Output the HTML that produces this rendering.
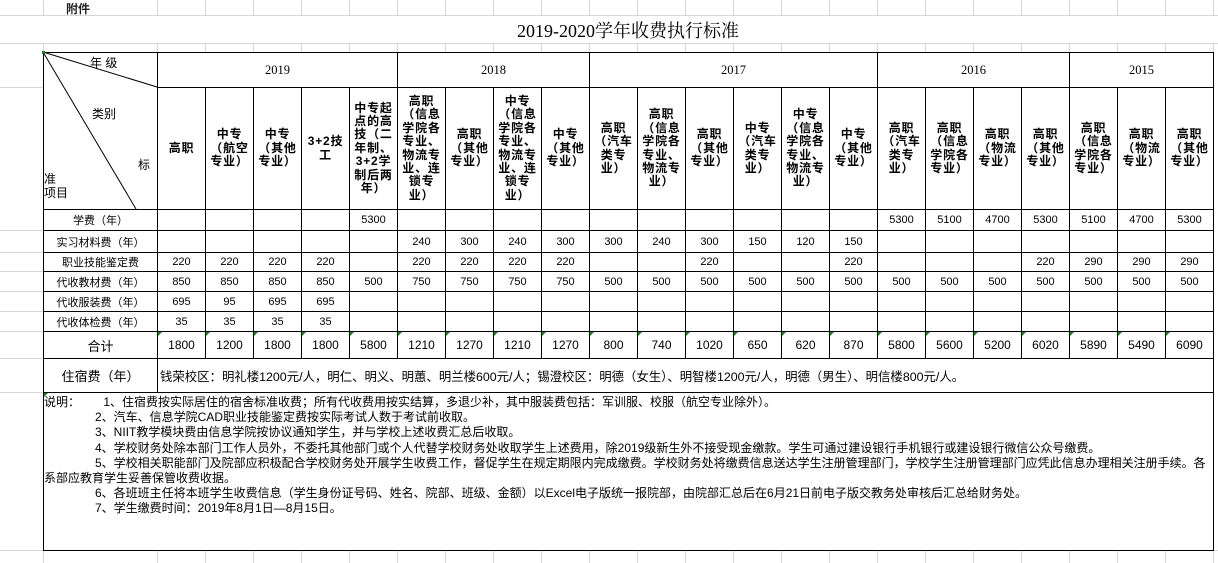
<!DOCTYPE html>
<html><head><meta charset="utf-8">
<style>
body{margin:0;width:1218px;height:563px;overflow:hidden;background:#fff;position:relative;font-family:"Liberation Sans","Noto Sans CJK SC",sans-serif;}
.g{position:absolute;background:#d6d6d6;}
table{position:absolute;left:43px;top:52px;border-collapse:collapse;table-layout:fixed;background:#fff;}
td{border:1px solid #000;padding:0;text-align:center;vertical-align:middle;font-size:11px;overflow:hidden;white-space:nowrap;}
.h td.c{font-weight:bold;font-size:12px;line-height:13.4px;letter-spacing:0.8px}
.yr{font-family:"Liberation Serif","Noto Serif CJK SC",serif;font-size:12.5px}
.lab{font-size:11px}
.n{font-size:11.5px}
.tot td{font-size:12px;position:relative}
.tri{position:absolute;left:0;top:0;width:0;height:0;border-top:4px solid #1a7f1a;border-right:4px solid transparent}
.notes{position:absolute;left:44px;top:395px;font-family:"Liberation Sans","Noto Sans CJK SC",sans-serif;font-size:12px;line-height:15.2px;color:#000;white-space:nowrap}
</style></head><body>
<div class="g" style="left:0;top:15px;width:1218px;height:1px"></div>
<div class="g" style="left:0;top:43px;width:1218px;height:1px"></div>
<div class="g" style="left:0;top:87px;width:43px;height:1px"></div>
<div class="g" style="left:0;top:230px;width:43px;height:1px"></div>
<div class="g" style="left:0;top:252px;width:43px;height:1px"></div>
<div class="g" style="left:0;top:271px;width:43px;height:1px"></div>
<div class="g" style="left:0;top:291px;width:43px;height:1px"></div>
<div class="g" style="left:0;top:311px;width:43px;height:1px"></div>
<div class="g" style="left:0;top:331px;width:43px;height:1px"></div>
<div class="g" style="left:0;top:358px;width:43px;height:1px"></div>
<div class="g" style="left:0;top:392px;width:43px;height:1px"></div>
<div class="g" style="left:0;top:550px;width:1218px;height:1px"></div>
<div id="vg"></div>
<div style="position:absolute;left:66px;top:0;font-size:12px;font-weight:bold;color:#222">附件</div>
<div style="position:absolute;left:43px;top:17px;width:1170px;text-align:center;font-size:18px;font-family:'Liberation Serif','Noto Serif CJK SC',serif">2019-2020学年收费执行标准</div>
<table>
<colgroup><col style="width:114px">
<col style="width:48px"><col style="width:48px"><col style="width:48px"><col style="width:48px"><col style="width:48px"><col style="width:48px"><col style="width:48px"><col style="width:48px"><col style="width:48px"><col style="width:48px"><col style="width:48px"><col style="width:48px"><col style="width:48px"><col style="width:48px"><col style="width:48px"><col style="width:48px"><col style="width:48px"><col style="width:48px"><col style="width:48px"><col style="width:48px"><col style="width:48px"><col style="width:48px">
</colgroup>
<tr style="height:35px"><td rowspan="2" style="position:relative;border-bottom:1px solid #000"></td><td colspan="5" class="yr">2019</td><td colspan="4" class="yr">2018</td><td colspan="6" class="yr">2017</td><td colspan="4" class="yr">2016</td><td colspan="3" class="yr">2015</td></tr>
<tr class="h" style="height:122px">
<td class="c">高职</td><td class="c">中专<br>（航空<br>专业）</td><td class="c">中专<br>（其他<br>专业）</td><td class="c">3+2技<br>工</td><td class="c">中专起<br>点的高<br>技（二<br>年制、<br>3+2学<br>制后两<br>年）</td>
<td class="c">高职<br>（信息<br>学院各<br>专业、<br>物流专<br>业、连<br>锁专<br>业）</td><td class="c">高职<br>（其他<br>专业）</td><td class="c">中专<br>（信息<br>学院各<br>专业、<br>物流专<br>业、连<br>锁专<br>业）</td><td class="c">中专<br>（其他<br>专业）</td>
<td class="c">高职<br>（汽车<br>类专<br>业）</td><td class="c">高职<br>（信息<br>学院各<br>专业、<br>物流专<br>业）</td><td class="c">高职<br>（其他<br>专业）</td><td class="c">中专<br>（汽车<br>类专<br>业）</td><td class="c">中专<br>（信息<br>学院各<br>专业、<br>物流专<br>业）</td><td class="c">中专<br>（其他<br>专业）</td>
<td class="c">高职<br>（汽车<br>类专<br>业）</td><td class="c">高职<br>（信息<br>学院各<br>专业）</td><td class="c">高职<br>（物流<br>专业）</td><td class="c">高职<br>（其他<br>专业）</td>
<td class="c">高职<br>（信息<br>学院各<br>专业）</td><td class="c">高职<br>（物流<br>专业）</td><td class="c">高职<br>（其他<br>专业）</td></tr>
<tr style="height:21px" class="n"><td class="lab">学费（年）</td><td></td><td></td><td></td><td></td><td>5300</td><td></td><td></td><td></td><td></td><td></td><td></td><td></td><td></td><td></td><td></td><td>5300</td><td>5100</td><td>4700</td><td>5300</td><td>5100</td><td>4700</td><td>5300</td></tr>
<tr style="height:22px" class="n"><td class="lab">实习材料费（年）</td><td></td><td></td><td></td><td></td><td></td><td>240</td><td>300</td><td>240</td><td>300</td><td>300</td><td>240</td><td>300</td><td>150</td><td>120</td><td>150</td><td></td><td></td><td></td><td></td><td></td><td></td><td></td></tr>
<tr style="height:19px" class="n"><td class="lab">职业技能鉴定费</td><td>220</td><td>220</td><td>220</td><td>220</td><td></td><td>220</td><td>220</td><td>220</td><td>220</td><td></td><td></td><td>220</td><td></td><td></td><td>220</td><td></td><td></td><td></td><td>220</td><td>290</td><td>290</td><td>290</td></tr>
<tr style="height:20px" class="n"><td class="lab">代收教材费（年）</td><td>850</td><td>850</td><td>850</td><td>850</td><td>500</td><td>750</td><td>750</td><td>750</td><td>750</td><td>500</td><td>500</td><td>500</td><td>500</td><td>500</td><td>500</td><td>500</td><td>500</td><td>500</td><td>500</td><td>500</td><td>500</td><td>500</td></tr>
<tr style="height:20px" class="n"><td class="lab">代收服装费（年）</td><td>695</td><td>95</td><td>695</td><td>695</td><td></td><td></td><td></td><td></td><td></td><td></td><td></td><td></td><td></td><td></td><td></td><td></td><td></td><td></td><td></td><td></td><td></td><td></td></tr>
<tr style="height:20px" class="n"><td class="lab">代收体检费（年）</td><td>35</td><td>35</td><td>35</td><td>35</td><td></td><td></td><td></td><td></td><td></td><td></td><td></td><td></td><td></td><td></td><td></td><td></td><td></td><td></td><td></td><td></td><td></td><td></td></tr>
<tr style="height:27px" class="tot"><td style="font-size:13px">合计</td>
<td><i class="tri"></i>1800</td><td><i class="tri"></i>1200</td><td><i class="tri"></i>1800</td><td><i class="tri"></i>1800</td><td><i class="tri"></i>5800</td><td><i class="tri"></i>1210</td><td><i class="tri"></i>1270</td><td><i class="tri"></i>1210</td><td><i class="tri"></i>1270</td><td><i class="tri"></i>800</td><td><i class="tri"></i>740</td><td><i class="tri"></i>1020</td><td><i class="tri"></i>650</td><td><i class="tri"></i>620</td><td><i class="tri"></i>870</td><td><i class="tri"></i>5800</td><td><i class="tri"></i>5600</td><td><i class="tri"></i>5200</td><td><i class="tri"></i>6020</td><td><i class="tri"></i>5890</td><td><i class="tri"></i>5490</td><td><i class="tri"></i>6090</td></tr>
<tr style="height:34px"><td style="font-size:13px">住宿费（年）</td><td colspan="22" style="text-align:left;font-size:12.4px;padding-left:2px">钱荣校区：明礼楼1200元/人，明仁、明义、明蕙、明兰楼600元/人；锡澄校区：明德（女生）、明智楼1200元/人，明德（男生）、明信楼800元/人。</td></tr>
<tr style="height:158px"><td colspan="23" style="position:relative"><i class="tri"></i></td></tr>
</table>
<svg style="position:absolute;left:0;top:0" width="1218" height="563">
<line x1="43" y1="52" x2="157" y2="87" stroke="#000" stroke-width="1"/>
<line x1="43" y1="52" x2="136" y2="209" stroke="#000" stroke-width="1"/>
<rect x="42" y="51" width="3" height="3" fill="#1a7f1a"/>
</svg>
<div style="position:absolute;left:90px;top:54px;font-size:12px">年 级</div>
<div style="position:absolute;left:92px;top:105px;font-size:12px">类别</div>
<div style="position:absolute;left:138px;top:156px;font-size:12px">标</div>
<div style="position:absolute;left:44px;top:172px;font-size:12px;line-height:14px">准<br>项目</div>
<div class="notes">说明：&nbsp;&nbsp;&nbsp;&nbsp;&nbsp;&nbsp;&nbsp;1、住宿费按实际居住的宿舍标准收费；所有代收费用按实结算，多退少补，其中服装费包括：军训服、校服（航空专业除外）。<br>
<span style="padding-left:51px">2、汽车、信息学院CAD职业技能鉴定费按实际考试人数于考试前收取。</span><br>
<span style="padding-left:51px">3、NIIT教学模块费由信息学院按协议通知学生，并与学校上述收费汇总后收取。</span><br>
<span style="padding-left:51px">4、学校财务处除本部门工作人员外，不委托其他部门或个人代替学校财务处收取学生上述费用，除2019级新生外不接受现金缴款。学生可通过建设银行手机银行或建设银行微信公众号缴费。</span><br>
<span style="padding-left:51px">5、学校相关职能部门及院部应积极配合学校财务处开展学生收费工作，督促学生在规定期限内完成缴费。学校财务处将缴费信息送达学生注册管理部门，学校学生注册管理部门应凭此信息办理相关注册手续。各</span><br>
系部应教育学生妥善保管收费收据。<br>
<span style="padding-left:51px">6、各班班主任将本班学生收费信息（学生身份证号码、姓名、院部、班级、金额）以Excel电子版统一报院部，由院部汇总后在6月21日前电子版交教务处审核后汇总给财务处。</span><br>
<span style="padding-left:51px">7、学生缴费时间：2019年8月1日—8月15日。</span>
</div>
<script>
var s='';
for(var x=43;x<=1213;x+=(x==43?114:48)){s+='<div class="g" style="left:'+x+'px;top:0;width:1px;height:15px"></div><div class="g" style="left:'+x+'px;top:43px;width:1px;height:9px"></div><div class="g" style="left:'+x+'px;top:550px;width:1px;height:13px"></div>';}
document.getElementById('vg').innerHTML=s;
</script>
</body></html>
